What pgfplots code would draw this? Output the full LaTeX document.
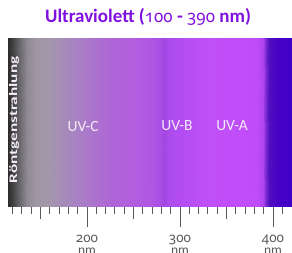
\documentclass[border=0pt]{standalone}
\usepackage{fontspec}
\setmainfont{Carlito}
\newfontfamily\numfont{Noto Sans}[Numbers=OldStyle]
\usepackage{pgfplots}
\pgfplotsset{compat=1.18}
\definecolor{titlec}{RGB}{128,16,224}
\definecolor{tickc}{RGB}{90,90,90}
\definecolor{labc}{RGB}{244,236,248}
\begin{document}
\begin{tikzpicture}[x=1pt,y=1pt]
\begin{axis}[
  at={(8pt,46pt)}, anchor=south west,
  scale only axis, width=284pt, height=169pt,
  xmin=115, xmax=420.4, ymin=0, ymax=1,
  clip=false,
  hide y axis,
  axis x line*=bottom,
  x axis line style={draw=none},
  tick align=outside,
  xtick={200,300,400},
  xticklabels={{\numfont 200\\nm},{\numfont 300\\nm},{\numfont 400\\nm}},
  xticklabel style={align=center, font=\fontsize{13.5}{12.5}\selectfont, text=tickc, inner sep=0pt, yshift=-7.5pt},
  minor xtick={120,130,...,410},
  major tick length=20pt,
  minor tick length=7pt,
  every tick/.style={draw=tickc, line width=0.9pt},
  extra x ticks={150,250,350},
  extra x tick labels={},
  extra x tick style={major tick length=12pt},
  colormap={uv}{
    rgb255(0pt)=(44,44,44)
    rgb255(5pt)=(68,68,70)
    rgb255(13pt)=(108,106,110)
    rgb255(20pt)=(142,138,146)
    rgb255(30pt)=(158,150,163)
    rgb255(45pt)=(164,150,172)
    rgb255(65pt)=(166,136,188)
    rgb255(85pt)=(170,120,202)
    rgb255(110pt)=(174,102,214)
    rgb255(135pt)=(178,94,222)
    rgb255(155pt)=(176,86,228)
    rgb255(163pt)=(170,78,230)
    rgb255(168pt)=(162,70,226)
    rgb255(173pt)=(172,76,236)
    rgb255(185pt)=(178,76,242)
    rgb255(200pt)=(184,80,244)
    rgb255(215pt)=(192,80,248)
    rgb255(268pt)=(192,76,248)
    rgb255(274pt)=(176,68,240)
    rgb255(277pt)=(120,40,210)
    rgb255(281pt)=(80,16,190)
    rgb255(290pt)=(72,0,196)
    rgb255(305.4pt)=(64,0,200)
  },
  point meta min=115, point meta max=420.4,
]
\addplot[surf, shader=interp, mesh/ordering=x varies, mesh/cols=23, point meta=x]
 coordinates {
 (115,0) (120,0) (128,0) (135,0) (145,0) (160,0) (180,0) (200,0) (225,0) (250,0) (270,0) (278,0) (283,0) (288,0) (300,0) (315,0) (330,0) (383,0) (389,0) (392,0) (396,0) (405,0) (420.4,0)
 (115,1) (120,1) (128,1) (135,1) (145,1) (160,1) (180,1) (200,1) (225,1) (250,1) (270,1) (278,1) (283,1) (288,1) (300,1) (315,1) (330,1) (383,1) (389,1) (392,1) (396,1) (405,1) (420.4,1)
 };
\node[text=titlec, font=\bfseries\fontsize{19}{22}\selectfont] at (axis cs:265.6,1.124) {Ultraviolett ({\numfont\fontsize{17}{20}\selectfont\bfseries 100} - {\numfont\fontsize{17}{20}\selectfont\bfseries 390} nm)};
\node[text=labc, font=\fontsize{15.5}{18}\selectfont] at (axis cs:195.7,0.479) {UV-C};
\node[text=labc, font=\fontsize{15.5}{18}\selectfont] at (axis cs:296.8,0.479) {UV-B};
\node[text=labc, font=\fontsize{15.5}{18}\selectfont] at (axis cs:356,0.479) {UV-A};
\node[text=labc, rotate=90, inner sep=0pt] at (axis cs:121.5,0.515) {\scalebox{1.5}[1]{\bfseries\fontsize{11.5}{12}\selectfont Röntgenstrahlung}};
\end{axis}
\pgfresetboundingbox
\path[use as bounding box] (0,0) rectangle (292,253);
\end{tikzpicture}
\end{document}
